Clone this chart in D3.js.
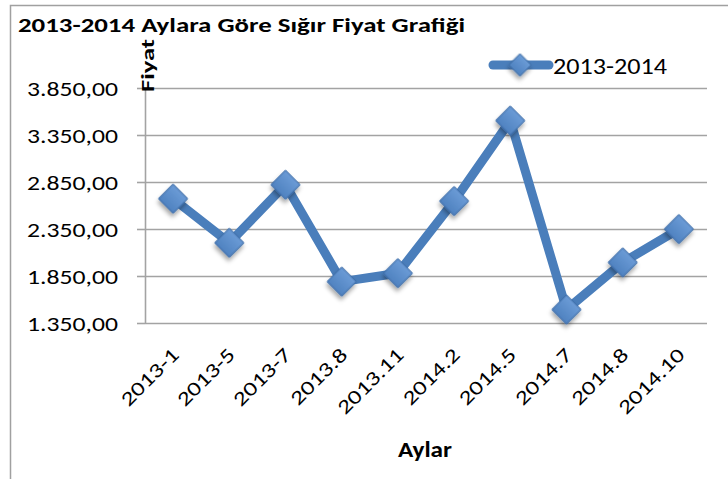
<!DOCTYPE html>
<html>
<head>
	<meta http-equiv="Content-Type" content="text/html; charset=utf-8">
	<title>2013-2014 Aylara Göre Sığır Fiyat Grafiği</title>
	<script type="text/javascript" src="https://d3js.org/d3.v7.min.js"></script>
	<style type="text/css">
		body{
			margin: 0;
			background: #fff;
		}
		text{
			font-family: Carlito, "Open Sans", sans-serif;
		}
	</style>
</head>
<body>
<div id="chart"></div>
</body>

<script type="text/javascript">

var months = ["2013-1", "2013-5", "2013-7", "2013.8", "2013.11", "2014.2", "2014.5", "2014.7", "2014.8", "2014.10"];
var prices = [2672, 2203, 2821, 1790, 1880, 2647, 3503, 1493, 1994, 2349];
var y_ticks = [1350, 1850, 2350, 2850, 3350, 3850];
var series_name = "2013-2014";
var chart_title = "2013-2014 Aylara Göre Sığır Fiyat Grafiği";
var x_title = "Aylar";
var y_title = "Fiyat";

var width = 728, height = 479;
// note: "top" is taken by window.top, so plot_* names
var plot_left = 145, plot_right = 707, plot_top = 88, plot_bottom = 323;
var line_color = "#4a7ebb";
var grid_color = "#a3a3a3";
var wide = 1.28; // the picture is drawn wider than the font

// tr style numbers: 3.850,00
var tr = d3.formatLocale({decimal: ",", thousands: ".", grouping: [3], currency: ["", " TL"]});
var fmt = tr.format(",.2f");

var svg = d3.select("#chart").append("svg")
	.attr("width", width)
	.attr("height", height);

var defs = svg.append("defs");
var shadow = defs.append("filter").attr("id", "shadow")
	.attr("x", "-50%").attr("y", "-50%").attr("width", "200%").attr("height", "200%");
shadow.append("feDropShadow")
	.attr("dx", 2).attr("dy", 3).attr("stdDeviation", 2)
	.attr("flood-color", "#000").attr("flood-opacity", 0.35);

var grad = defs.append("linearGradient").attr("id", "mk")
	.attr("x1", 0).attr("y1", 0).attr("x2", 0).attr("y2", 1);
grad.append("stop").attr("offset", "0%").attr("stop-color", "#6b9bd6");
grad.append("stop").attr("offset", "100%").attr("stop-color", "#4f82c0");

// outer frame
svg.append("path")
	.attr("d", "M10.5," + height + "V5.5H" + width)
	.attr("fill", "none")
	.attr("stroke", "#a0a0a0")
	.attr("stroke-width", 1.5);

var x = d3.scaleBand().domain(months).range([plot_left, plot_right]);
var y = d3.scaleLinear().domain([1350, 3850]).range([plot_bottom, plot_top]);

// gridlines
svg.append("g")
	.attr("transform", "translate(" + plot_left + ",0)")
	.call(d3.axisLeft(y).tickValues(y_ticks).tickSize(-(plot_right - plot_left)).tickFormat(""))
	.call(function(g){
		g.select(".domain").remove();
		g.selectAll("line").attr("stroke", grid_color).attr("stroke-width", 1.6);
	});

// y axis
var yaxis = svg.append("g")
	.attr("transform", "translate(" + plot_left + ",0)")
	.call(d3.axisLeft(y).tickValues(y_ticks).tickSize(8).tickSizeOuter(0).tickPadding(19).tickFormat(fmt));
yaxis.select(".domain").attr("stroke", grid_color).attr("stroke-width", 1.6);
yaxis.selectAll("line").attr("stroke", grid_color).attr("stroke-width", 1.6);
yaxis.selectAll("text")
	.attr("font-size", 20)
	.attr("fill", "#000")
	.attr("dy", "0.36em")
	.attr("textLength", 91)
	.attr("lengthAdjust", "spacingAndGlyphs");

// x labels
var xaxis = svg.append("g")
	.attr("transform", "translate(0," + plot_bottom + ")")
	.call(d3.axisBottom(x).tickSize(0).tickPadding(0));
xaxis.select(".domain").remove();
xaxis.selectAll("text")
	.attr("font-size", 20)
	.attr("fill", "#000")
	.attr("text-anchor", "end")
	.attr("dy", 0)
	.attr("y", 0)
	.attr("transform", "translate(7,33) rotate(-45)")
	.each(function(){
		this.setAttribute("textLength", this.getComputedTextLength() * wide);
		this.setAttribute("lengthAdjust", "spacingAndGlyphs");
	});

// line + markers
var line = d3.line()
	.x(function(d, i){ return x(months[i]) + x.bandwidth() / 2; })
	.y(function(d){ return y(d); });

svg.append("path")
	.datum(prices)
	.attr("d", line)
	.attr("fill", "none")
	.attr("stroke", line_color)
	.attr("stroke-width", 9)
	.attr("stroke-linejoin", "round");

var diamond = d3.symbol().type(d3.symbolSquare).size(420);

svg.append("g").selectAll("path")
	.data(prices).enter()
	.append("path")
	.attr("d", diamond)
	.attr("transform", function(d, i){
		return "translate(" + (x(months[i]) + x.bandwidth() / 2) + "," + y(d) + ") rotate(45)";
	})
	.attr("fill", "url(#mk)")
	.attr("stroke", "#3d6da8")
	.attr("stroke-width", 1)
	.attr("filter", "url(#shadow)");

// titles
svg.append("text")
	.attr("x", 18).attr("y", 32)
	.attr("font-size", 21).attr("font-weight", "bold")
	.attr("textLength", 447).attr("lengthAdjust", "spacingAndGlyphs")
	.text(chart_title);

svg.append("text")
	.attr("transform", "translate(154,92) rotate(-90)")
	.attr("font-size", 19).attr("font-weight", "bold")
	.attr("textLength", 53).attr("lengthAdjust", "spacingAndGlyphs")
	.text(y_title);

svg.append("text")
	.attr("x", 425).attr("y", 457)
	.attr("text-anchor", "middle")
	.attr("font-size", 22).attr("font-weight", "bold")
	.attr("textLength", 54).attr("lengthAdjust", "spacingAndGlyphs")
	.text(x_title);

// legend
var legend = svg.append("g");
legend.append("line")
	.attr("x1", 493).attr("x2", 549).attr("y1", 65).attr("y2", 65)
	.attr("stroke", line_color).attr("stroke-width", 9).attr("stroke-linecap", "round");
legend.append("path")
	.attr("d", d3.symbol().type(d3.symbolSquare).size(250))
	.attr("transform", "translate(520,65) rotate(45)")
	.attr("fill", "url(#mk)").attr("stroke", "#3d6da8").attr("stroke-width", 1)
	.attr("filter", "url(#shadow)");
legend.append("text")
	.attr("x", 553).attr("y", 74)
	.attr("font-size", 22)
	.attr("textLength", 114).attr("lengthAdjust", "spacingAndGlyphs")
	.text(series_name);

</script>
</html>
